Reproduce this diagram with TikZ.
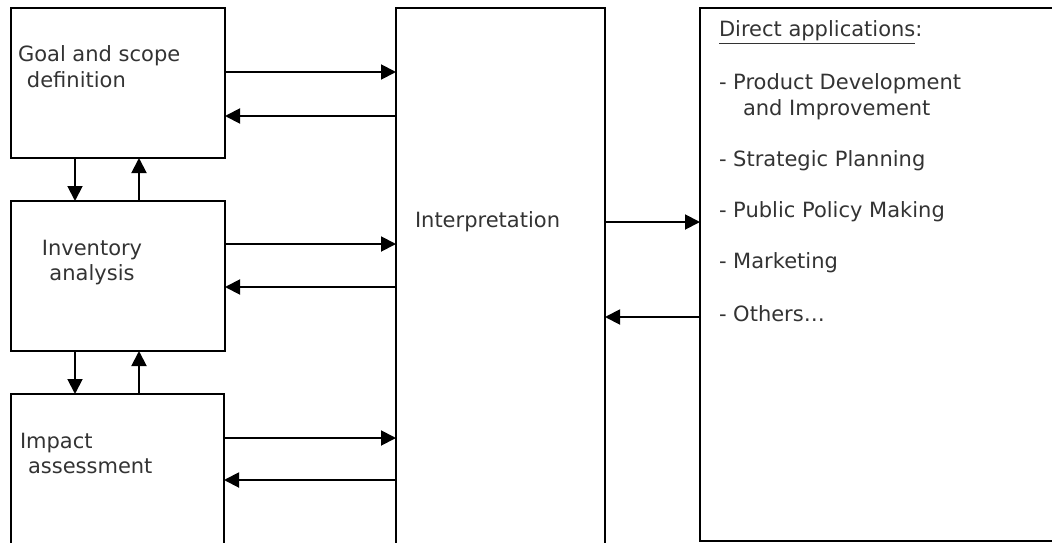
\documentclass[tikz,border=0pt]{standalone}
\usepackage{fontspec}
\setmainfont{DejaVu Sans}
\usetikzlibrary{arrows.meta}
\definecolor{txt}{HTML}{333333}
\begin{document}
\begin{tikzpicture}[x=1pt,y=-1pt,
  stage/.style={draw=black,line width=2.2pt,rectangle,inner sep=0pt,outer sep=0pt},
  lbl/.style={inner sep=0pt,outer sep=0pt,text=txt,font=\fontsize{21}{25}\selectfont},
  flow/.style={line width=1.9pt,-{Triangle[length=15pt,width=15pt]}}]
\useasboundingbox (0,0) rectangle (1052,543);
\clip (0,0) rectangle (1052,543);

% phase boxes
\node[stage,minimum width=214pt,minimum height=150pt] (goal) at (118,83) {};
\node[stage,minimum width=214pt,minimum height=150pt] (inv) at (118,276) {};
\node[stage,minimum width=213pt,minimum height=160pt] (imp) at (117.5,474) {};
\node[stage,minimum width=209pt,minimum height=546pt] (interp) at (500.5,281) {};
\node[stage,minimum width=370pt,minimum height=533pt] (apps) at (885,274.5) {};

% box texts
\node[lbl,anchor=base west] (g1) at (18,62) {Goal and scope};
\node[lbl,anchor=base west] (g2) at (27,88) {definition};
\node[lbl,anchor=base] (i1) at (92,255) {Inventory};
\node[lbl,anchor=base] (i2) at (92,280) {analysis};
\node[lbl,anchor=base west] (m1) at (20,448) {Impact};
\node[lbl,anchor=base west] (m2) at (28,473) {assessment};
\node[lbl,anchor=base west] (t1) at (415,227) {Interpretation};
\node[lbl,anchor=base west] (a0) at (719,37) {\underline{Direct applications}:};
\node[lbl,anchor=base west] (a1) at (719,89) {- Product Development};
\node[lbl,anchor=base west] (a1b) at (743,115) {and Improvement};
\node[lbl,anchor=base west] (a2) at (719,166) {- Strategic Planning};
\node[lbl,anchor=base west] (a3) at (719,217) {- Public Policy Making};
\node[lbl,anchor=base west] (a4) at (719,268) {- Marketing};
\node[lbl,anchor=base west] (a5) at (719,321) {- Others…};

% exchanges with interpretation
\draw[flow] (goal.east |- 0,72) -- (interp.west |- 0,72);
\draw[flow] (interp.west |- 0,116) -- (goal.east |- 0,116);
\draw[flow] (inv.east |- 0,244) -- (interp.west |- 0,244);
\draw[flow] (interp.west |- 0,287) -- (inv.east |- 0,287);
\draw[flow] (imp.east |- 0,438) -- (interp.west |- 0,438);
\draw[flow] (interp.west |- 0,480) -- (imp.east |- 0,480);
\draw[flow] (interp.east |- 0,222) -- (apps.west |- 0,222);
\draw[flow] (apps.west |- 0,317) -- (interp.east |- 0,317);

% iterations between phases
\draw[flow] (goal.south -| 75,0) -- (inv.north -| 75,0);
\draw[flow] (inv.north -| 139,0) -- (goal.south -| 139,0);
\draw[flow] (inv.south -| 75,0) -- (imp.north -| 75,0);
\draw[flow] (imp.north -| 139,0) -- (inv.south -| 139,0);
\end{tikzpicture}
\end{document}
